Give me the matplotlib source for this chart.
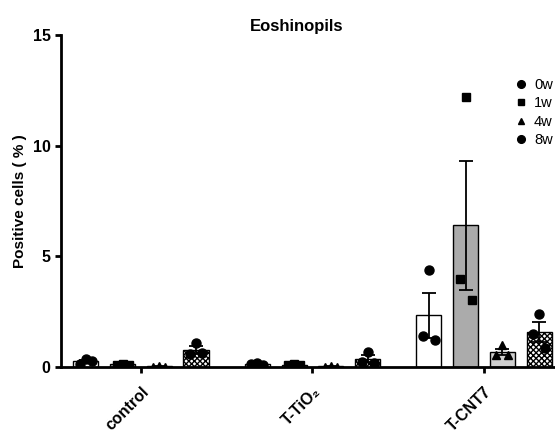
import matplotlib.pyplot as plt
import numpy as np

plt.rcParams["font.family"] = ["Liberation Sans", "DejaVu Sans"]
plt.rcParams["hatch.linewidth"] = 1.0

groups = ["control", "T-TiO\u2082", "T-CNT7"]
weeks = ["0w", "1w", "4w", "8w"]

# individual points per group, per week (3 animals each)
points_0w = [[0.35, 0.15, 0.25], [0.20, 0.15, 0.10], [4.39, 1.41, 1.21]]
points_1w = [[0.15, 0.10, 0.10], [0.12, 0.10, 0.08], [12.2, 3.99, 3.01]]
points_4w = [[0.03, 0.02, 0.02], [0.03, 0.02, 0.02], [0.98, 0.56, 0.52]]
points_8w = [[1.10, 0.60, 0.62], [0.69, 0.22, 0.20], [2.39, 1.47, 0.86]]

all_points = [points_0w, points_1w, points_4w, points_8w]
colors = ["white", "#ababab", "#cfcfcf", "white"]
hatches = [None, None, None, "xxxxxx"]
markers = ["o", "s", "^", "o"]
marker_sizes = [6.5, 5.5, 5.5, 6.5]

spacing = 0.214
width = 0.146
jitter = np.array([0.0, -0.035, 0.035])

fig = plt.figure(figsize=(5.55, 4.45), dpi=100)
ax = fig.add_axes([61 / 555, 1 - 367 / 445, 1 - 61 / 555, (367 - 35) / 445])

x = np.arange(len(groups))
for i, pts in enumerate(all_points):
    arr = np.array(pts)
    means = arr.mean(axis=1)
    sems = arr.std(axis=1, ddof=1) / np.sqrt(arr.shape[1])
    xpos = x + (i - 1.5) * spacing
    ax.bar(xpos, means, width, color=colors[i], edgecolor="black",
           linewidth=1.0, hatch=hatches[i], zorder=2)
    ax.errorbar(xpos, means, yerr=sems, fmt="none", ecolor="black",
                elinewidth=1.3, capsize=5, capthick=1.3, zorder=3)
    for j in range(len(groups)):
        ax.plot(xpos[j] + jitter, arr[j], linestyle="none", marker=markers[i],
                markersize=marker_sizes[i], color="black", zorder=4)

ax.set_xlim(-0.466, 2.414)
ax.set_ylim(0, 15)
ax.set_yticks([0, 5, 10, 15])
ax.set_xticks(x)
ax.set_xticklabels(groups, rotation=45, ha="right", rotation_mode="anchor",
                   fontsize=11.5, fontweight="bold")
for lab in ax.get_yticklabels():
    lab.set_fontweight("bold")
    lab.set_fontsize(11.5)

for side in ["top", "right"]:
    ax.spines[side].set_visible(False)
for side in ["left", "bottom"]:
    ax.spines[side].set_linewidth(2)
ax.spines["left"].set_bounds(0, 15)
ax.tick_params(axis="both", width=2, length=4, direction="out")
ax.tick_params(axis="x", pad=8)

ax.set_ylabel("Positive cells ( % )", fontsize=11, fontweight="bold", labelpad=4)
fig.text(297 / 555, 1 - 27 / 445, "Eoshinopils", ha="center", va="center",
         fontsize=12, fontweight="bold")

handles = [plt.Line2D([], [], linestyle="none", marker=m, color="black",
                      markersize=s * 0.85) for m, s in zip(markers, marker_sizes)]
fig.legend(handles, weeks, loc="upper left", bbox_to_anchor=(515 / 555, 1 - 78 / 445),
           frameon=False, fontsize=10.5, labelspacing=0.3, handlelength=0.8,
           handletextpad=0.5, borderpad=0, borderaxespad=0)

fig.savefig("out.png", dpi=100)
